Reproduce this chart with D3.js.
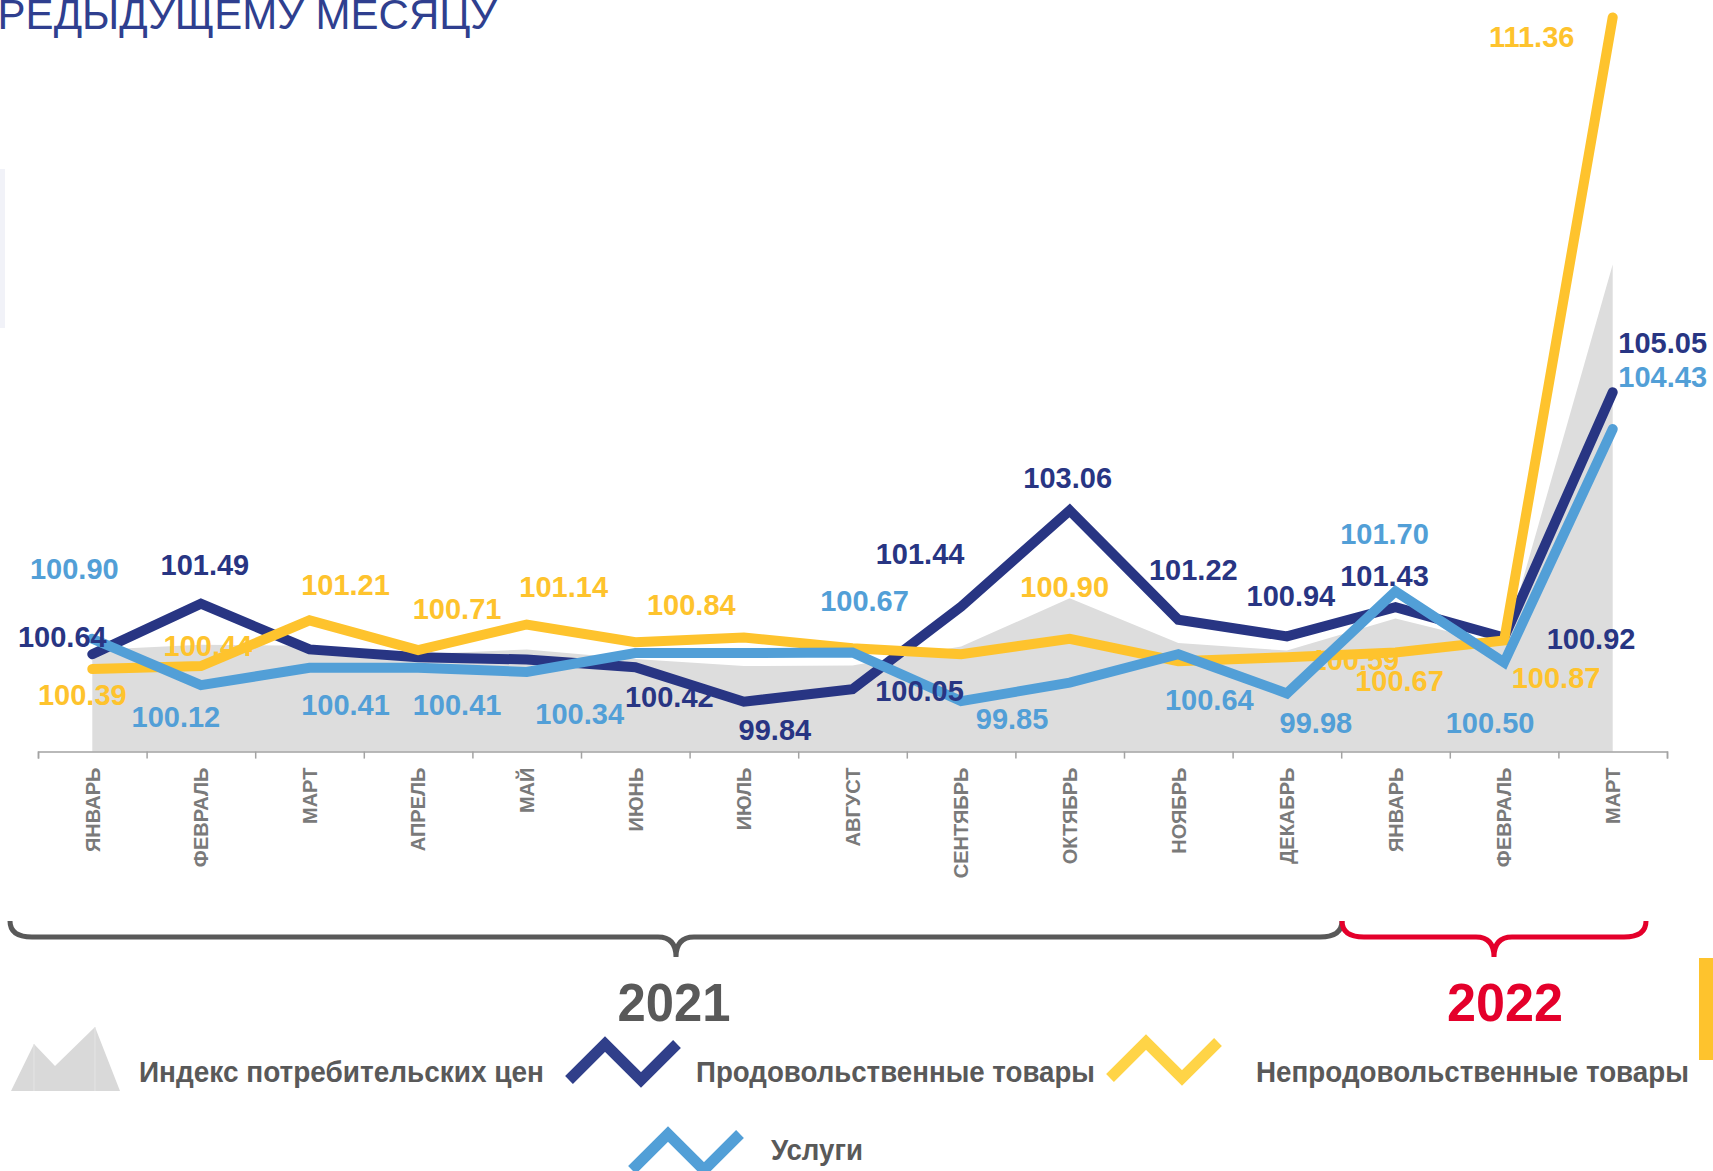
<html>
<head>
  <meta charset="UTF-8">
  <title>ИПЦ к предыдущему месяцу</title>
  <script src="https://d3js.org/d3.v7.min.js"></script>
  <style>
    body { margin: 0; background: #fff; overflow: hidden; }
    svg { display: block; }
  </style>
</head>
<body>
<script>

    // ---- data ----
    const months = ["ЯНВАРЬ", "ФЕВРАЛЬ", "МАРТ", "АПРЕЛЬ", "МАЙ", "ИЮНЬ", "ИЮЛЬ", "АВГУСТ",
                    "СЕНТЯБРЬ", "ОКТЯБРЬ", "НОЯБРЬ", "ДЕКАБРЬ", "ЯНВАРЬ", "ФЕВРАЛЬ", "МАРТ"];
    const years = ["2021", "2022"];

    const cpi      = [100.71, 100.80, 100.78, 100.64, 100.72, 100.56, 100.44, 100.45, 100.77, 101.58, 100.83, 100.70, 101.24, 100.79, 107.20];
    const food     = [100.64, 101.49, 100.72, 100.59, 100.55, 100.42, 99.84, 100.05, 101.44, 103.06, 101.22, 100.94, 101.43, 100.92, 105.05];
    const nonfood  = [100.39, 100.44, 101.21, 100.71, 101.14, 100.84, 100.92, 100.74, 100.64, 100.90, 100.52, 100.59, 100.67, 100.87, 111.36];
    const services = [100.90, 100.12, 100.41, 100.41, 100.34, 100.66, 100.66, 100.67, 99.85, 100.16, 100.64, 99.98, 101.70, 100.50, 104.43];

    const legendNames = ["Индекс потребительских  цен", "Продовольственные товары", "Непродовольственные товары", "Услуги"];

    // label placement relative to its point (null = the reference has no label there)
    const foodLabelPos = [[-30,-18],[4,-39],null,null,null,[34,29],[31,28],[67,1],[-41,-53],[-2,-33],[15,-50],[4,-41],[-11,-32],[87,1],[50,-50]];
    const nonfoodLabelPos = [[-10,26],[7,-21],[36,-36],[39,-41],[37,-38],[56,-38],null,null,null,[-5,-52],null,[68,2],[4,28],[52,37],[-81,19]];
    const servicesLabelPos = [[-18,-70],[-25,31],[36,37],[39,37],[53,42],null,null,[12,-52],[51,17],null,[31,45],[29,29],[-11,-58],[-14,60],[50,-52]];

    const navy = "#283583", blue = "#529fd7", yellow = "#fec32d", grey = "#dddddd";
    const textGrey = "#595959", red = "#e4002b";

    const W = 1713, H = 1171;
    const svg = d3.select("body").append("svg").attr("width", W).attr("height", H);

    const x = d3.scaleBand().domain(d3.range(months.length)).range([38, 1667]);
    const cx = i => x(i) + x.bandwidth() / 2;
    const y = d3.scaleLinear().domain([99, 112]).range([751.6, -20.6]);

    // title fragment, cut by the top edge
    svg.append("text")
        .attr("x", 497).attr("y", 29)
        .attr("text-anchor", "end")
        .style("font-family", "'Liberation Sans', Arial, sans-serif")
        .style("font-size", "42px")
        .attr("fill", "#2f3f8f")
        .text("ПРЕДЫДУЩЕМУ МЕСЯЦУ");

    // decorative bars at the edges
    svg.append("rect").attr("x", 0).attr("y", 169).attr("width", 5).attr("height", 159).attr("fill", "#f1f2f8");
    svg.append("rect").attr("x", 1699).attr("y", 958).attr("width", 14).attr("height", 102).attr("fill", yellow);

    // CPI area
    const area = d3.area().x((d, i) => cx(i)).y0(y(99)).y1(d => y(d));
    svg.append("path").attr("d", area(cpi)).attr("fill", grey);

    // axis ticks at band edges
    const edge = d3.scaleLinear().domain([0, months.length]).range([38, 1667]);
    const axisG = svg.append("g")
        .attr("transform", `translate(0,${y(99)})`)
        .call(d3.axisBottom(edge).ticks(months.length).tickFormat("").tickSize(7).tickSizeOuter(7));
    axisG.selectAll("path, line").attr("stroke", "#a3a3a3").attr("stroke-width", 1.5);

    // month labels
    const monthG = svg.append("g")
        .attr("transform", `translate(0,${y(99)})`)
        .call(d3.axisBottom(x).tickSize(0).tickFormat(i => months[i]));
    monthG.select(".domain").remove();
    monthG.selectAll("text")
        .attr("transform", "rotate(-90)")
        .attr("x", -16).attr("y", 0).attr("dy", "0.36em")
        .style("text-anchor", "end")
        .style("font-family", "'Liberation Sans', Arial, sans-serif")
        .style("font-weight", "bold")
        .style("font-size", "20px")
        .attr("fill", "#7a7a7a");

    // value labels
    function drawLabels(g, values, pos, color, keep) {
        const items = values.map((v, i) => ({ v, i, p: pos[i] })).filter(d => d.p && keep(d.i));
        g.selectAll("text").data(items).join("text")
            .attr("x", d => cx(d.i) + d.p[0])
            .attr("y", d => y(d.v) + d.p[1])
            .attr("dy", "0.36em")
            .attr("text-anchor", "middle")
            .style("font-family", "'Liberation Sans', Arial, sans-serif")
            .style("font-weight", "bold")
            .style("font-size", "29px")
            .attr("fill", color)
            .text(d => d.v.toFixed(2));
    }

    // the yellow December label sits behind the lines in the reference
    drawLabels(svg.append("g"), nonfood, nonfoodLabelPos, yellow, i => i === 11);

    const line = d3.line().x((d, i) => cx(i)).y(d => y(d));
    [[food, navy], [nonfood, yellow], [services, blue]].forEach(([vals, color]) => {
        svg.append("path")
            .attr("d", line(vals))
            .attr("fill", "none")
            .attr("stroke", color)
            .attr("stroke-width", 10)
            .attr("stroke-linecap", "round")
            .attr("stroke-linejoin", "miter");
    });

    drawLabels(svg.append("g"), food, foodLabelPos, navy, () => true);
    drawLabels(svg.append("g"), nonfood, nonfoodLabelPos, yellow, i => i !== 11);
    drawLabels(svg.append("g"), services, servicesLabelPos, blue, () => true);

    // year braces
    function brace(x1, x2, xm, yTop, yLine, yTip) {
        const p = d3.path();
        const r = 22, rm = 18;
        p.moveTo(x1, yTop);
        p.quadraticCurveTo(x1, yLine, x1 + r, yLine);
        p.lineTo(xm - rm, yLine);
        p.quadraticCurveTo(xm, yLine, xm, yTip);
        p.quadraticCurveTo(xm, yLine, xm + rm, yLine);
        p.lineTo(x2 - r, yLine);
        p.quadraticCurveTo(x2, yLine, x2, yTop);
        return p.toString();
    }
    const braces = [
        { x1: 10, x2: 1342, xm: 676, tx: 674, len: 113, color: textGrey },
        { x1: 1342, x2: 1646, xm: 1494, tx: 1505, len: 116, color: red }
    ];
    braces.forEach((b, k) => {
        svg.append("path")
            .attr("d", brace(b.x1, b.x2, b.xm, 921, 937, 957))
            .attr("fill", "none")
            .attr("stroke", b.color)
            .attr("stroke-width", 5);
        svg.append("text")
            .attr("x", b.tx).attr("y", 1021)
            .attr("text-anchor", "middle")
            .attr("textLength", b.len)
            .attr("lengthAdjust", "spacingAndGlyphs")
            .style("font-family", "'Liberation Sans Narrow', 'Arial Narrow', sans-serif")
            .style("font-weight", "bold")
            .style("font-size", "54px")
            .attr("fill", b.color)
            .text(years[k]);
    });

    // legend
    const lg = svg.append("g");
    lg.append("path").attr("d", "M11,1091L34,1044L55,1066L95,1027L120,1091Z").attr("fill", "#d9d9d9");
    lg.append("line").attr("x1", 34).attr("y1", 1044).attr("x2", 34).attr("y2", 1091).attr("stroke", "#e4e4e4").attr("stroke-width", 1);
    lg.append("line").attr("x1", 95).attr("y1", 1027).attr("x2", 95).attr("y2", 1091).attr("stroke", "#e4e4e4").attr("stroke-width", 1);

    const zig = (x0, y0) => `M${x0},${y0 + 36}L${x0 + 36},${y0}L${x0 + 72},${y0 + 36}L${x0 + 108},${y0}`;
    const legendItems = [
        { icon: null, color: null, tx: 139, ty: 1082, len: 405 },
        { icon: zig(569, 1044), color: "#303f8a", tx: 696, ty: 1082, len: 399 },
        { icon: zig(1110, 1042), color: "#ffd447", tx: 1256, ty: 1082, len: 433 },
        { icon: zig(632, 1134), color: blue, tx: 771, ty: 1160, len: 92 }
    ];
    legendItems.forEach((d, k) => {
        if (d.icon) {
            lg.append("path").attr("d", d.icon).attr("fill", "none")
                .attr("stroke", d.color).attr("stroke-width", 11).attr("stroke-linejoin", "miter");
        }
        lg.append("text")
            .attr("x", d.tx).attr("y", d.ty)
            .attr("textLength", d.len)
            .attr("lengthAdjust", "spacingAndGlyphs")
            .style("font-family", "'Liberation Sans Narrow', 'Arial Narrow', sans-serif")
            .style("font-weight", "bold")
            .style("font-size", "30px")
            .attr("fill", textGrey)
            .text(legendNames[k]);
    });

</script>
</body>
</html>
